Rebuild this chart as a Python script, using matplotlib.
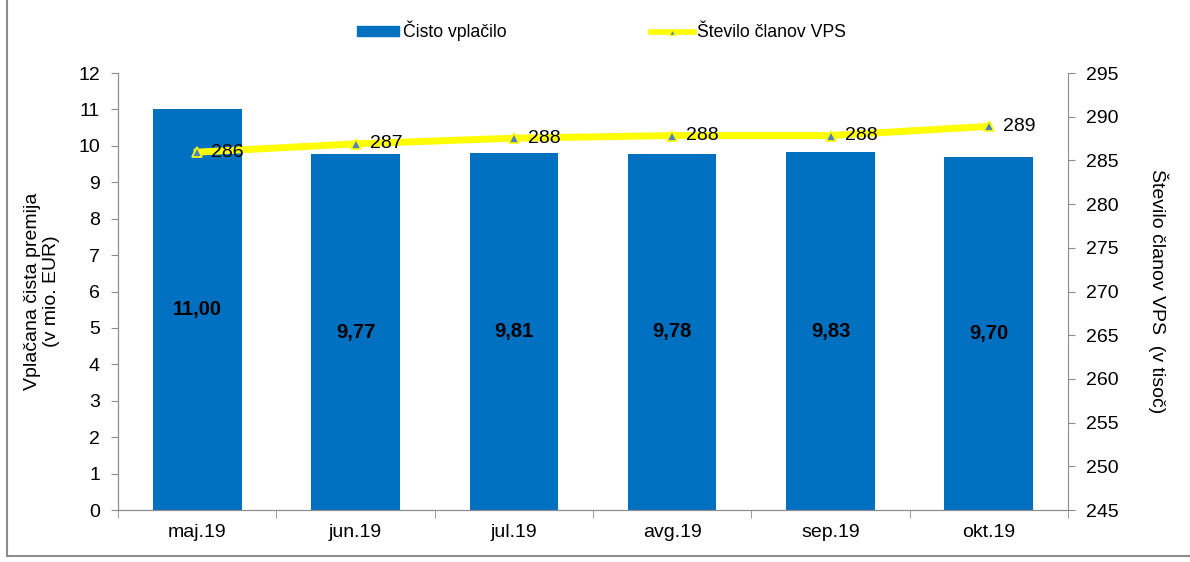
import matplotlib.pyplot as plt
import numpy as np
from matplotlib.lines import Line2D
from matplotlib.patches import Patch

plt.rcParams['font.family'] = ['Liberation Sans', 'DejaVu Sans']

months = ["maj.19", "jun.19", "jul.19", "avg.19", "sep.19", "okt.19"]
premija = [11.00, 9.77, 9.81, 9.78, 9.83, 9.70]
clani = [285.95, 286.9, 287.55, 287.85, 287.85, 288.9]
clani_labels = ["286", "287", "288", "288", "288", "289"]

blue = "#0070C0"
yellow = "#FFFF00"
grey = "#8C8C8C"
fs = 14

fig = plt.figure(figsize=(11.9, 5.62), dpi=100)
ax = fig.add_axes([118 / 1190, 0.0925, 950 / 1190, 0.7775])
ax2 = ax.twinx()

x = np.arange(len(months))
ax.bar(x, premija, width=0.56, color=blue, zorder=2)
for xi, v in zip(x, premija):
    ax.text(xi, v / 2, f"{v:.2f}".replace(".", ","), ha="center", va="center",
            fontsize=14.5, fontweight="bold", color="black", zorder=3)

ax.set_xlim(-0.5, len(months) - 0.5)
ax.set_ylim(0, 12)
ax.set_yticks(range(0, 13))
ax.set_xticks(x)
ax.set_xticklabels(months)
ax.set_xticks(np.arange(-0.5, len(months)), minor=True)
ax.tick_params(axis="x", which="major", length=0, pad=10, labelsize=fs)
ax.tick_params(axis="x", which="minor", length=6, color=grey)
ax.tick_params(axis="y", length=5, color=grey, labelsize=fs, pad=8)
ax.set_ylabel("Vplačana čista premija\n(v mio. EUR)", fontsize=fs, labelpad=13)

ax2.plot(x, clani, color=yellow, lw=5, marker="^", markersize=7,
         markerfacecolor="#4F81BD", markeredgecolor=yellow, markeredgewidth=1.2,
         zorder=4)
for xi, v, lab in zip(x, clani, clani_labels):
    ax2.text(xi + 0.09, v, lab, ha="left", va="center", fontsize=fs, zorder=5)
ax2.set_ylim(245, 295)
ax2.set_yticks(range(245, 296, 5))
ax2.tick_params(axis="y", length=5, color=grey, labelsize=fs, pad=8)
ax2.set_ylabel("Število članov VPS  (v tisoč)", fontsize=fs, rotation=270,
               labelpad=36)

for a in (ax, ax2):
    a.spines["top"].set_visible(False)
    for s in ("left", "right", "bottom"):
        a.spines[s].set_color(grey)
ax.spines["right"].set_visible(False)

handles = [Patch(color=blue), Line2D([0], [0], color=yellow, lw=4, marker="^",
                                     markersize=4, markerfacecolor="#4F81BD",
                                     markeredgecolor=yellow)]
fig.legend(handles, ["Čisto vplačilo", "Število članov VPS"], loc="center",
           bbox_to_anchor=(0.5055, 0.945), ncol=2, frameon=False, fontsize=12.7,
           columnspacing=8.2, handlelength=2.4, handletextpad=0.2,
           handleheight=0.5)

fig.add_artist(Line2D([0.006, 0.006], [0.01, 1.0], color=grey, lw=1.5))
fig.add_artist(Line2D([0.006, 1.0], [0.01, 0.01], color=grey, lw=1.5))

fig.savefig("out.png", dpi=100)
